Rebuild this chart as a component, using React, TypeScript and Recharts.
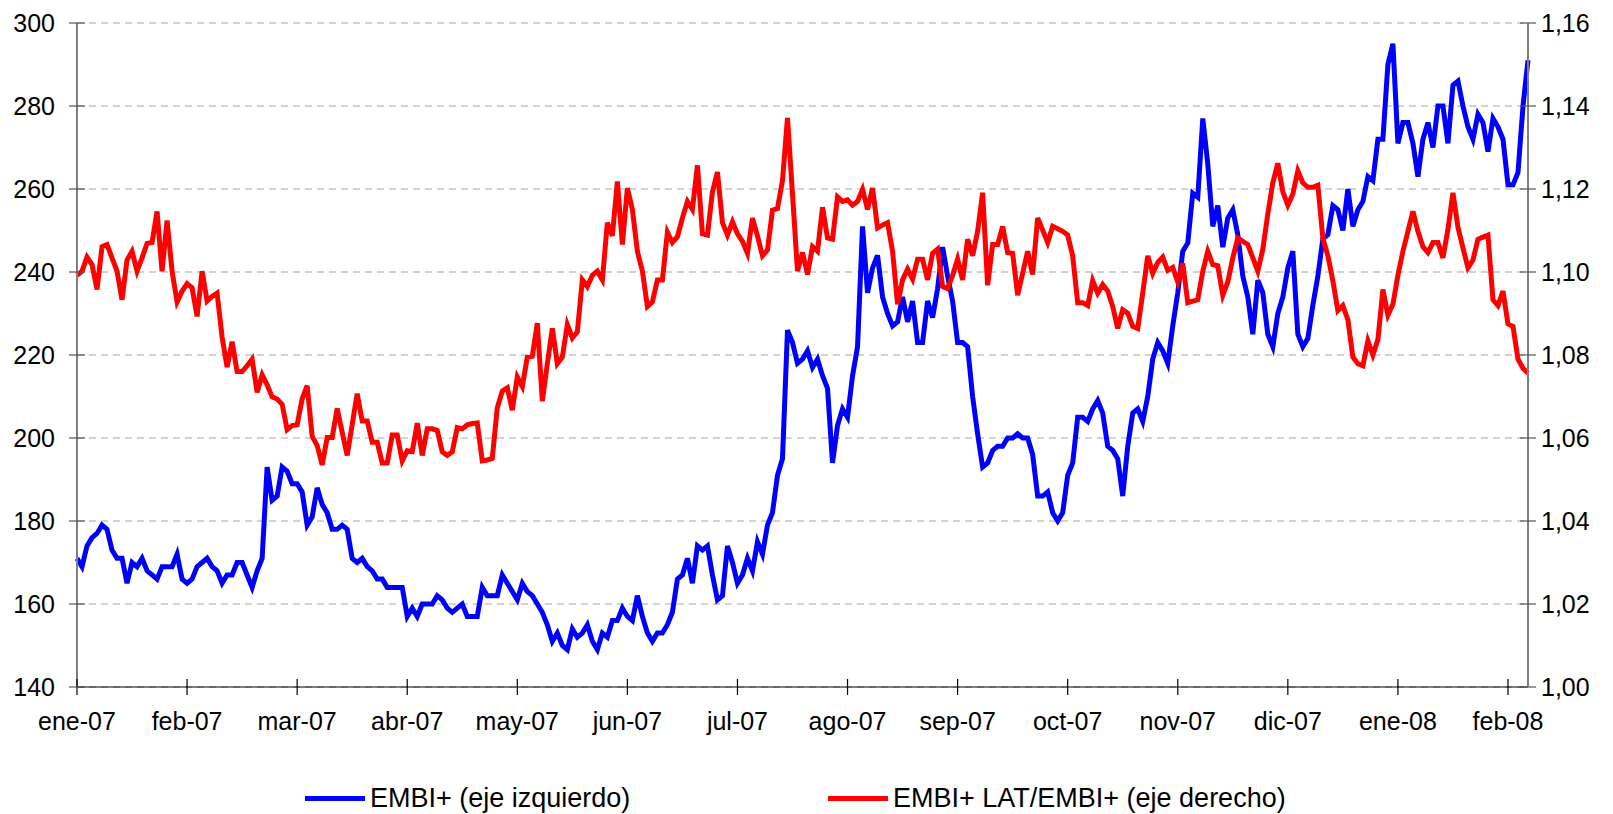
import { CartesianGrid, Line, LineChart, XAxis, YAxis } from "recharts";

const months = ["ene-07", "feb-07", "mar-07", "abr-07", "may-07", "jun-07", "jul-07", "ago-07", "sep-07", "oct-07", "nov-07", "dic-07", "ene-08", "feb-08"];
const monthTicks = months.map((_, k) => k * 22);
const leftTicks = [140, 160, 180, 200, 220, 240, 260, 280, 300];
const rightTicks = [1.0, 1.02, 1.04, 1.06, 1.08, 1.1, 1.12, 1.14, 1.16];

// EMBI+ spread, daily (eje izquierdo)
const embi = [
  171, 169, 174, 176, 177, 179, 178, 173, 171, 171,
  165, 170, 169, 171, 168, 167, 166, 169, 169, 169,
  172, 166, 165, 166, 169, 170, 171, 169, 168, 165,
  167, 167, 170, 170, 167, 164, 168, 171, 193, 185,
  186, 193, 192, 189, 189, 187, 179, 181, 188, 184,
  182, 178, 178, 179, 178, 171, 170, 171, 169, 168,
  166, 166, 164, 164, 164, 164, 157, 159, 157, 160,
  160, 160, 162, 161, 159, 158, 159, 160, 157, 157,
  157, 164, 162, 162, 162, 167, 165, 163, 161, 165,
  163, 162, 160, 158, 155, 151, 153, 150, 149, 154,
  152, 153, 155, 151, 149, 153, 152, 156, 156, 159,
  157, 156, 162, 157, 153, 151, 153, 153, 155, 158,
  166, 167, 171, 165, 174, 173, 174, 167, 161, 162,
  174, 170, 165, 167, 171, 168, 175, 172, 179, 182,
  191, 195, 226, 223, 218, 219, 221, 217, 219, 215,
  212, 194, 203, 207, 205, 215, 222, 251, 235, 241,
  244, 234, 230, 227, 228, 234, 228, 233, 223, 223,
  233, 229, 236, 246, 239, 233, 223, 223, 222, 210,
  201, 193, 194, 197, 198, 198, 200, 200, 201, 200,
  200, 196, 186, 186, 187, 182, 180, 182, 191, 194,
  205, 205, 204, 207, 209, 206, 198, 197, 195, 186,
  198, 206, 207, 204, 210, 219, 223, 221, 218, 227,
  235, 245, 247, 259, 258, 277, 266, 251, 256, 246,
  253, 255, 249, 239, 234, 225, 238, 235, 225, 222,
  230, 234, 241, 245, 225, 222, 224, 232, 239, 248,
  249, 256, 255, 250, 260, 251, 255, 257, 263, 262,
  272, 272, 290, 295, 271, 276, 276, 271, 263, 272,
  276, 270, 280, 280, 271, 285, 286, 280, 275, 272,
  278, 276, 269, 277, 275, 272, 261, 261, 264, 280,
  291,
];

// EMBI+ LAT / EMBI+ ratio (eje derecho)
const latRatio = [
  1.0992, 1.1002, 1.1036, 1.1018, 1.0958, 1.1061, 1.1066, 1.1034, 1.1002, 1.0933,
  1.1029, 1.105, 1.1002, 1.1034, 1.1069, 1.1071, 1.1146, 1.1002, 1.1124, 1.1002,
  1.0928, 1.0954, 1.0972, 1.0962, 1.0893, 1.1002, 1.093, 1.0941, 1.0949, 1.0843,
  1.0771, 1.0832, 1.076, 1.076, 1.0774, 1.079, 1.071, 1.0752, 1.0728, 1.0699,
  1.0694, 1.0681, 1.062, 1.063, 1.0632, 1.0694, 1.0726, 1.0604, 1.0582, 1.0535,
  1.0601, 1.0601, 1.0671, 1.0614, 1.0558, 1.0632, 1.0707, 1.0641, 1.0641, 1.059,
  1.059, 1.054, 1.054, 1.0607, 1.0607, 1.0545, 1.0569, 1.0567, 1.0636, 1.0558,
  1.0622, 1.0622, 1.0618, 1.0567, 1.0558, 1.0567, 1.0625, 1.0622, 1.0632, 1.0635,
  1.0636, 1.0545, 1.0547, 1.0551, 1.0673, 1.0713, 1.0721, 1.0667, 1.0747, 1.0724,
  1.0795, 1.0797, 1.0877, 1.0689, 1.0779, 1.0864, 1.0779, 1.0795, 1.0873, 1.0841,
  1.0856, 1.0981, 1.0965, 1.0992, 1.1002, 1.0981, 1.1119, 1.1087, 1.1218, 1.1066,
  1.1202, 1.1151, 1.105, 1.1002, 1.0917, 1.0928, 1.0981, 1.0981, 1.1096, 1.1071,
  1.1085, 1.113, 1.117, 1.1151, 1.1257, 1.1092, 1.1089, 1.1193, 1.1241, 1.1119,
  1.1089, 1.1121, 1.1092, 1.1074, 1.1045, 1.113, 1.1087, 1.1039, 1.1053, 1.1149,
  1.1153, 1.122, 1.1371, 1.1188, 1.1002, 1.1047, 1.0994, 1.1061, 1.105, 1.1156,
  1.1082, 1.1079, 1.1181, 1.117, 1.1174, 1.1161, 1.117, 1.1199, 1.1151, 1.1202,
  1.1106, 1.1113, 1.1119, 1.105, 1.0922, 1.0981, 1.1007, 1.0983, 1.1031, 1.1031,
  1.0981, 1.1045, 1.1055, 1.0965, 1.096, 1.0992, 1.1031, 1.0981, 1.1079, 1.1039,
  1.1098, 1.1191, 1.0968, 1.1066, 1.1066, 1.111, 1.1047, 1.1045, 1.0944, 1.0997,
  1.105, 1.0994, 1.113, 1.1101, 1.1071, 1.111, 1.1104, 1.1098, 1.1089, 1.1039,
  1.0926, 1.0926, 1.0919, 1.0979, 1.0949, 1.097, 1.0954, 1.0917, 1.0864, 1.0909,
  1.0901, 1.0869, 1.0864, 1.0949, 1.1039, 1.0997, 1.1023, 1.1036, 1.1004, 1.1011,
  1.0976, 1.1021, 1.0926, 1.093, 1.0933, 1.1002, 1.105, 1.1018, 1.1015, 1.0944,
  1.0976, 1.1034, 1.1082, 1.1074, 1.1066, 1.1034, 1.1002, 1.1055, 1.114, 1.1215,
  1.1262, 1.1193, 1.1161, 1.1188, 1.1244, 1.1215, 1.1204, 1.1204, 1.1209, 1.1082,
  1.1039, 1.0979, 1.0907, 1.0919, 1.0885, 1.0795, 1.0779, 1.0774, 1.0834, 1.08,
  1.0837, 1.0958, 1.0896, 1.0922, 1.0992, 1.105, 1.1098, 1.1146, 1.1098, 1.1061,
  1.1047, 1.1071, 1.1071, 1.1034, 1.1103, 1.1191, 1.1108, 1.1058, 1.101, 1.1029,
  1.1079, 1.1084, 1.1089, 1.0933, 1.0919, 1.0954, 1.0875, 1.0869, 1.079, 1.0768,
  1.0756,
];

const data = embi.map((v, i) => ({ day: i, embi: v, lat: latRatio[i] }));

const font = "'Liberation Sans', Arial, Helvetica, sans-serif";

function XTick({ x, y, payload }: any) {
  return (
    <g>
      <line x1={x} x2={x} y1={y - 8} y2={y + 8} stroke="#000" strokeWidth={1.2} />
      <text x={x} y={y + 43} textAnchor="middle" fontSize={25} fontFamily={font} fill="#000">
        {months[Math.round(payload.value / 22)]}
      </text>
    </g>
  );
}

function LeftTick({ x, y, payload }: any) {
  return (
    <g>
      <line x1={x - 8} x2={x + 8} y1={y} y2={y} stroke="#555" strokeWidth={1.2} />
      <text x={x - 22} y={y + 9} textAnchor="end" fontSize={25} fontFamily={font} fill="#000">
        {payload.value}
      </text>
    </g>
  );
}

function RightTick({ x, y, payload }: any) {
  return (
    <g>
      <line x1={x - 8} x2={x + 8} y1={y} y2={y} stroke="#555" strokeWidth={1.2} />
      <text x={x + 13} y={y + 9} textAnchor="start" fontSize={25} fontFamily={font} fill="#000">
        {Number(payload.value).toFixed(2).replace(".", ",")}
      </text>
    </g>
  );
}

function LegendItem({ color, label, left }: { color: string; label: string; left: number }) {
  return (
    <div style={{ position: "absolute", left, top: 780, height: 36, display: "flex", alignItems: "center" }}>
      <div style={{ width: 60, height: 5, background: color, marginRight: 5 }} />
      <span style={{ fontFamily: font, fontSize: 27, lineHeight: "36px", color: "#000", whiteSpace: "nowrap" }}>{label}</span>
    </div>
  );
}

export default function App() {
  return (
    <div style={{ position: "absolute", left: 0, top: 0, width: 1613, height: 814, background: "#fff" }}>
      <LineChart width={1613} height={740} data={data} margin={{ top: 23, right: 0, bottom: 0, left: 0 }}>
        <CartesianGrid yAxisId="left" vertical={false} stroke="#a6a6a6" strokeDasharray="7 5" />
        <XAxis
          dataKey="day"
          type="number"
          domain={[0, 290]}
          ticks={monthTicks}
          interval={0}
          height={53}
          tickSize={0}
          tickMargin={0}
          tickLine={false}
          axisLine={{ stroke: "#000", strokeWidth: 1.2 }}
          tick={<XTick />}
        />
        <YAxis
          yAxisId="left"
          width={77}
          domain={[140, 300]}
          ticks={leftTicks}
          interval={0}
          tickSize={0}
          tickMargin={0}
          tickLine={false}
          axisLine={{ stroke: "#808080", strokeWidth: 2 }}
          tick={<LeftTick />}
        />
        <YAxis
          yAxisId="right"
          orientation="right"
          width={85}
          domain={[1.0, 1.16]}
          ticks={rightTicks}
          interval={0}
          tickSize={0}
          tickMargin={0}
          tickLine={false}
          axisLine={{ stroke: "#808080", strokeWidth: 2 }}
          tick={<RightTick />}
        />
        <Line yAxisId="left" type="linear" dataKey="embi" stroke="#0000ff" strokeWidth={5} dot={false} isAnimationActive={false} />
        <Line yAxisId="right" type="linear" dataKey="lat" stroke="#ff0000" strokeWidth={5} dot={false} isAnimationActive={false} />
      </LineChart>
      <LegendItem color="#0000ff" label="EMBI+ (eje izquierdo)" left={305} />
      <LegendItem color="#ff0000" label="EMBI+ LAT/EMBI+ (eje derecho)" left={828} />
    </div>
  );
}
